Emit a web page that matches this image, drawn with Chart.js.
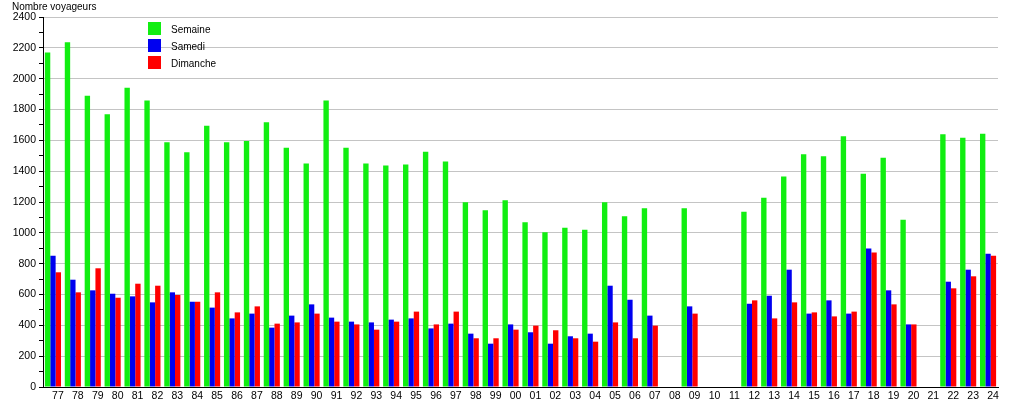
<!DOCTYPE html>
<html>
<head>
<meta charset="utf-8">
<script src="https://cdn.jsdelivr.net/npm/chart.js@4/dist/chart.umd.min.js"></script>
<style>
    html, body { margin: 0; padding: 0; background: #fff; }
    #wrap { width: 1015px; height: 400px; position: relative; }
</style>
</head>
<body>
<div id="wrap"><canvas id="voyageursChart"></canvas></div>
<script>
const years = ['77','78','79','80','81','82','83','84','85','86','87','88','89','90','91','92',
    '93','94','95','96','97','98','99','00','01','02','03','04','05','06','07','08',
    '09','10','11','12','13','14','15','16','17','18','19','20','21','22','23','24'];

const semaine = [2170, 2236, 1890, 1769, 1941, 1859, 1587, 1522, 1695, 1587, 1596, 1717, 1552, 1449, 1859, 1552,
    1449, 1436, 1444, 1526, 1462, 1198, 1146, 1211, 1068, 1003, 1033, 1020, 1198, 1107, 1159, null,
    1159, null, null, 1137, 1228, 1366, 1509, 1496, 1626, 1384, 1487, 1085, null, 1639, 1617, 1643];

const samedi = [852, 696, 627, 605, 588, 549, 614, 553, 515, 445, 476, 385, 463, 536, 450, 424,
    419, 437, 445, 380, 411, 346, 281, 406, 355, 281, 329, 346, 657, 566, 463, null,
    523, null, null, 540, 592, 761, 476, 562, 476, 899, 627, 406, null, 683, 761, 865];

const dimanche = [744, 614, 770, 579, 670, 657, 597, 553, 614, 484, 523, 411, 419, 476, 424, 406,
    372, 424, 489, 406, 489, 316, 316, 372, 398, 368, 316, 294, 419, 316, 398, null,
    476, null, null, 562, 445, 549, 484, 458, 489, 873, 536, 406, null, 640, 718, 852];

const seriesNames = ['Semaine', 'Samedi', 'Dimanche'];
const seriesColors = ['#11ee11', '#0000f0', '#ff0000'];

const fontFamily = "'Liberation Sans', Arial, sans-serif";

// titre + legende dessines a la main (legende dans la zone du graphe)
const overlayPlugin = {
    id: 'overlay',
    afterDraw(chart) {
        const ctx = chart.ctx;
        ctx.save();
        ctx.font = '10px ' + fontFamily;
        ctx.fillStyle = '#000';
        ctx.textBaseline = 'middle';
        ctx.textAlign = 'left';
        ctx.fillText('Nombre voyageurs', 12, 7);

        chart.data.datasets.forEach((ds, i) => {
            const y = 22 + i * 17;
            ctx.fillStyle = ds.backgroundColor;
            ctx.fillRect(148, y, 13, 13);
            ctx.fillStyle = '#000';
            ctx.fillText(ds.label, 171, y + 8);
        });
        ctx.restore();
    }
};

const datasets = [semaine, samedi, dimanche].map((vals, i) => ({
    label: seriesNames[i],
    data: vals,
    backgroundColor: seriesColors[i],
    borderWidth: 0,
    categoryPercentage: 0.81,
    barPercentage: 1.0
}));

new Chart(document.getElementById('voyageursChart'), {
    type: 'bar',
    data: { labels: years, datasets: datasets },
    plugins: [overlayPlugin],
    options: {
        responsive: true,
        maintainAspectRatio: false,
        animation: false,
        layout: { padding: { top: 17, right: 17, bottom: 0, left: 0 } },
        plugins: {
            legend: { display: false },
            title: { display: false },
            tooltip: { enabled: false }
        },
        scales: {
            x: {
                grid: { display: false, drawTicks: false },
                border: { display: true, color: '#000', width: 1 },
                ticks: {
                    color: '#000',
                    font: { family: fontFamily, size: 10.5 },
                    padding: 3,
                    labelOffset: 5,
                    autoSkip: false,
                    maxRotation: 0
                },
                afterFit(scale) { scale.height = 13; }
            },
            y: {
                min: 0,
                max: 2400,
                border: { display: true, color: '#000', width: 1 },
                grid: {
                    color: c => (c.tick && c.tick.value % 200 === 0) ? '#c4c4c4' : 'rgba(0,0,0,0)',
                    tickColor: '#000',
                    tickLength: 4,
                    lineWidth: 1
                },
                ticks: {
                    stepSize: 100,
                    autoSkip: false,
                    color: '#000',
                    padding: 3,
                    font: { family: fontFamily, size: 10.5 },
                    callback: v => (v % 200 === 0 ? v : '')
                },
                afterFit(scale) { scale.width = 43; }
            }
        }
    }
});
</script>
</body>
</html>
